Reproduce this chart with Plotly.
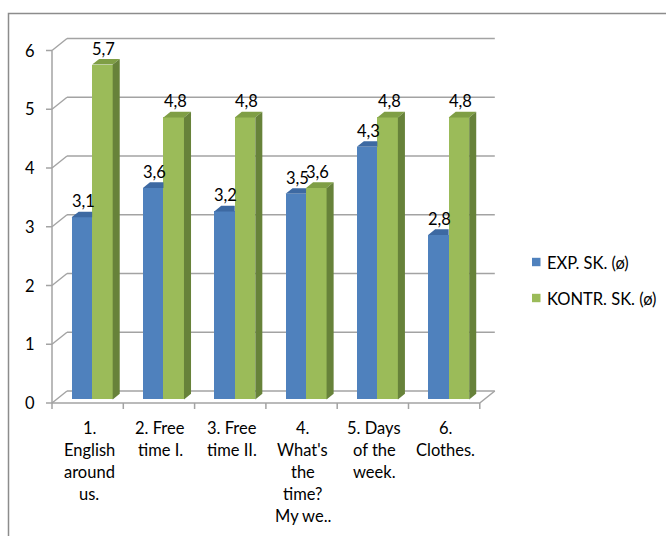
import plotly.graph_objects as go

# ---- data -------------------------------------------------------------
categories = [
    "1.\nEnglish\naround\nus.",
    "2. Free\ntime I.",
    "3. Free\ntime II.",
    "4.\nWhat's\nthe\ntime?\nMy we..",
    "5. Days\nof the\nweek.",
    "6.\nClothes.",
]
exp_values = [3.1, 3.6, 3.2, 3.5, 4.3, 2.8]
kontr_values = [5.7, 4.8, 4.8, 3.6, 4.8, 4.8]
series_names = ["EXP. SK. (ø)", "KONTR. SK. (ø)"]
y_ticks = [0, 1, 2, 3, 4, 5, 6]

# ---- geometry of the pseudo-3D frame (pixels -> data units) -----------
W, H = 666, 536
PX_X = 71.3          # pixels per category
PX_Y = 58.75         # pixels per value unit
AX_LEFT = 52         # pixel column of the front value axis
AX_ZERO = 403        # pixel row of value 0 on the front plane
DX = 15 / PX_X       # full depth, horizontal shift
DY = 12 / PX_Y       # full depth, vertical shift
BAR_W = 0.288
F_DEPTH, B_DEPTH = 0.3, 0.77   # front/back plane of the columns

x_range = [-0.5 - AX_LEFT / PX_X, -0.5 + (W - AX_LEFT) / PX_X]
y_range = [-(H - AX_ZERO) / PX_Y, AX_ZERO / PX_Y]


def px_x(px):
    return -0.5 + (px - AX_LEFT) / PX_X


def px_y(py):
    return (AX_ZERO - py) / PX_Y


FONT = "Lato"
FSIZE = 16.5
GRID = "#a3a3a3"
n = len(categories)
x_end = n - 0.5

styles = [
    dict(front="#4F81BD", top="#3D69A2", side="#34598A", offset=-BAR_W),
    dict(front="#9BBB59", top="#7F9E45", side="#67823A", offset=0.0),
]

fig = go.Figure()
shapes = []
annotations = []


def line(x0, y0, x1, y1, color=GRID, width=1.5):
    shapes.append(dict(type="line", xref="x", yref="y", x0=x0, y0=y0, x1=x1, y1=y1,
                       line=dict(color=color, width=width), layer="below"))


# back-wall gridlines, side diagonals and front tick marks
for k in y_ticks:
    line(-0.5, k, -0.5 + DX, k + DY)
    if k > 0:
        line(-0.5 + DX, k + DY, x_end + DX, k + DY)
    line(-0.5 - 6 / PX_X, k, -0.5, k)
    annotations.append(dict(x=px_x(37), y=k, xref="x", yref="y", text=str(k),
                            showarrow=False, xanchor="right", yanchor="middle",
                            font=dict(family=FONT, size=FSIZE, color="#000")))
# front value axis
line(-0.5, 0, -0.5, y_ticks[-1])
# floor outline
line(-0.5, 0, x_end, 0)
line(x_end, 0, x_end + DX, DY)
line(-0.5 + DX, DY, x_end + DX, DY)
for i in range(n + 1):
    line(-0.5 + i, 0, -0.5 + i, -6 / PX_Y)

# category labels, one annotation per line
for i, cat in enumerate(categories):
    for j, part in enumerate(cat.split("\n")):
        annotations.append(dict(x=i + 0.02, y=px_y(428 + 22 * j), xref="x", yref="y",
                                text=part, showarrow=False, xanchor="center",
                                yanchor="middle",
                                font=dict(family=FONT, size=FSIZE, color="#000")))

# columns
fd = B_DEPTH - F_DEPTH
for s, (name, vals) in enumerate(zip(series_names, [exp_values, kontr_values])):
    st = styles[s]
    xs = [i + F_DEPTH * DX for i in range(n)]
    fig.add_trace(go.Bar(x=xs, y=vals, base=F_DEPTH * DY, width=BAR_W,
                         offset=st["offset"], name=name,
                         marker=dict(color=st["front"], line=dict(width=0)),
                         showlegend=False, hoverinfo="skip"))
    tx, ty, sx, sy = [], [], [], []
    for i, v in enumerate(vals):
        xl = xs[i] + st["offset"]
        xr = xl + BAR_W
        t = F_DEPTH * DY + v
        if s == 0:
            # right part of the top face sits behind the neighbouring column
            px = [xl, xr, xr, xl + fd * DX, xl]
            py = [t, t, t + fd * DY, t + fd * DY, t]
        else:
            px = [xl, xr, xr + fd * DX, xl + fd * DX, xl]
            py = [t, t, t + fd * DY, t + fd * DY, t]
            sx += [xr, xr, xr + fd * DX, xr + fd * DX, xr, None]
            sy += [F_DEPTH * DY, t, t + fd * DY, F_DEPTH * DY + fd * DY, F_DEPTH * DY, None]
        tx += px + [None]
        ty += py + [None]
        annotations.append(dict(x=xl + BAR_W / 2 + 0.02, y=t, xref="x", yref="y",
                                text=f"{v:.1f}".replace(".", ","), showarrow=False,
                                xanchor="center", yanchor="bottom", yshift=4,
                                font=dict(family=FONT, size=FSIZE, color="#000")))
    fig.add_trace(go.Scatter(x=tx, y=ty, mode="lines", fill="toself",
                             fillcolor=st["top"], line=dict(width=0),
                             showlegend=False, hoverinfo="skip"))
    if sx:
        fig.add_trace(go.Scatter(x=sx, y=sy, mode="lines", fill="toself",
                                 fillcolor=st["side"], line=dict(width=0),
                                 showlegend=False, hoverinfo="skip"))

# legend swatches and names
for s, name in enumerate(series_names):
    cy = 262 + 36 * s
    shapes.append(dict(type="rect", xref="paper", yref="paper",
                       x0=532 / W, x1=540.5 / W, y0=1 - (cy + 4.2) / H, y1=1 - (cy - 4.2) / H,
                       fillcolor=styles[s]["front"], line=dict(width=0)))
    annotations.append(dict(x=545 / W, y=1 - (cy + 1) / H, xref="paper", yref="paper",
                            text=name, showarrow=False, xanchor="left", yanchor="middle",
                            font=dict(family=FONT, size=FSIZE, color="#000")))

# chart frame
shapes.append(dict(type="rect", xref="paper", yref="paper",
                   x0=8.5 / W, x1=1.2, y0=-0.2, y1=1 - 13.5 / H,
                   line=dict(color="#8c8c8c", width=1.5), fillcolor="rgba(0,0,0,0)"))

fig.update_layout(
    width=W, height=H, autosize=False,
    margin=dict(l=0, r=0, t=0, b=0),
    paper_bgcolor="white", plot_bgcolor="white",
    barmode="overlay", bargap=0,
    xaxis=dict(range=x_range, visible=False, fixedrange=True),
    yaxis=dict(range=y_range, visible=False, fixedrange=True),
    shapes=shapes, annotations=annotations,
    showlegend=False,
)

fig.write_html("out.html")
